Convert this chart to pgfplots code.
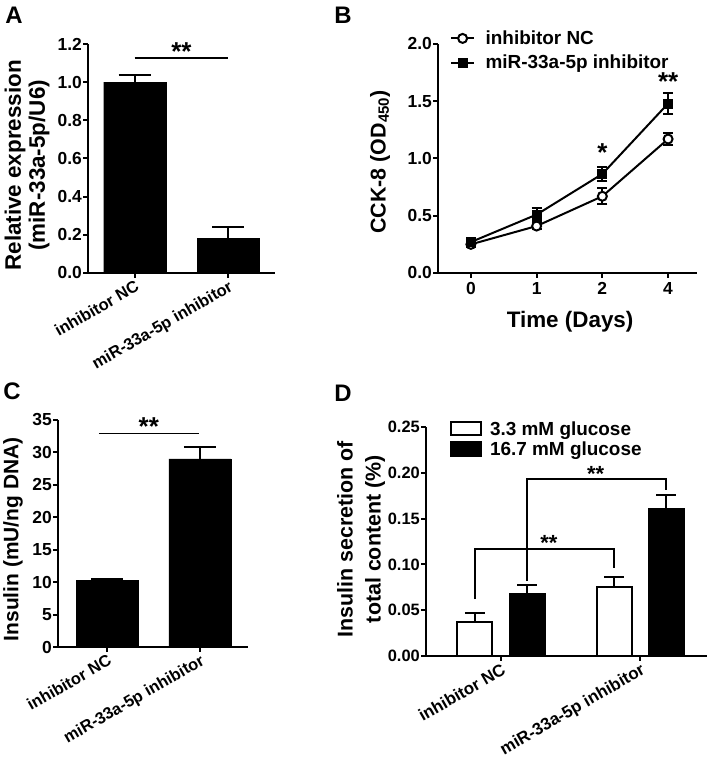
\documentclass[border=0pt]{standalone}
\usepackage{fontspec}
\setmainfont{Liberation Sans}
\usepackage{pgfplots}
\pgfplotsset{compat=1.18}
\newcommand\tickfont{\fontsize{17.5}{18}\selectfont\bfseries}
\newcommand\tickfontD{\fontsize{16.5}{17}\selectfont\bfseries}
\newcommand\xtfont{\fontsize{16.5}{17}\selectfont\bfseries}
\newcommand\xtfontD{\fontsize{17}{18}\selectfont\bfseries}
\newcommand\legfont{\fontsize{19}{20}\selectfont\bfseries}
\newcommand\starfont{\fontsize{26}{26}\selectfont\bfseries}
\newcommand\panfont{\fontsize{24}{24}\selectfont\bfseries}
\pgfplotsset{
  prism/.style={
    scale only axis,
    axis lines=left,
    axis line style={-, line width=2bp, black},
    tick align=outside,
    major tick length=5bp,
    tick style={black, line width=2bp},
    minor tick num=0,
    /pgf/number format/assume math mode=true,
    tick label style={font=\tickfont},
    yticklabel style={inner sep=1bp},
    scaled y ticks=false,
    clip=false,
  },
  catx/.style={
    xtick={0,1},
    xticklabels={inhibitor NC, miR-33a-5p inhibitor},
    xticklabel style={rotate=30, anchor=north east, font=\xtfont, inner sep=1bp},
  },
}
\begin{document}
\begin{tikzpicture}
\useasboundingbox (0bp,0bp) rectangle (709bp,758bp);
% panel letters
\node[font=\panfont] at (14bp,743bp) {A};
\node[font=\panfont] at (343bp,743bp) {B};
\node[font=\panfont] at (12bp,367bp) {C};
\node[font=\panfont] at (343bp,365bp) {D};

% ---------------- A ----------------
\begin{axis}[prism, catx,
  at={(88bp,485bp)}, anchor=south west,
  width=187bp, height=229bp,
  xmin=-0.5, xmax=1.5, ymin=0, ymax=1.2,
  ytick={0,0.2,0.4,0.6,0.8,1.0,1.2},
  yticklabel style={/pgf/number format/.cd, fixed, fixed zerofill, precision=1},
  ylabel={Relative expression\\(miR-33a-5p/U6)},
  ylabel style={align=center, font=\fontsize{22.5}{24}\selectfont\bfseries,
    at={(axis description cs:-0.326,0.47)}, anchor=center},
]
\addplot[ybar, bar width=62bp, bar shift=0bp, fill=black, draw=black,
  error bars/.cd, y dir=plus, y explicit,
  error bar style={line width=2bp, black},
  error mark options={line width=2bp, mark size=16bp, black, rotate=90}]
  coordinates {(0,1.00) +- (0,0.035) (1,0.18) +- (0,0.06)};
\addplot[sharp plot, black, line width=1.2bp, mark=none] coordinates {(0,1.127) (1,1.127)};
\node[font=\starfont, anchor=base] at (axis cs:0.5,1.115) {**};
\end{axis}

% ---------------- B ----------------
\begin{axis}[prism,
  at={(438bp,485bp)}, anchor=south west,
  width=259bp, height=229bp,
  xmin=-0.5, xmax=3.44, ymin=0, ymax=2,
  xtick={0,1,2,3}, xticklabels={0,1,2,4},
  ytick={0,0.5,1.0,1.5,2.0},
  yticklabel style={/pgf/number format/.cd, fixed, fixed zerofill, precision=1},
  xticklabel style={inner sep=4bp},
  ylabel={CCK-8 (OD\textsubscript{450})},
  ylabel style={font=\fontsize{21.5}{23}\selectfont\bfseries,
    at={(axis description cs:-0.224,0.485)}, anchor=center},
  xlabel={Time (Days)},
  xlabel style={font=\fontsize{22.5}{23}\selectfont\bfseries,
    at={(axis description cs:0.51,-0.214)}, anchor=center},
  legend style={draw=none, fill=none, font=\legfont, inner sep=0bp,
    at={(axis description cs:0.046,1.065)}, anchor=north west,
    nodes={inner sep=1.5bp}, row sep=6bp, column sep=9bp},
  legend cell align=left,
  legend image code/.code={\draw[mark repeat=2, mark phase=2, #1]
    plot coordinates {(0bp,0bp) (11.5bp,0bp) (23bp,0bp)};},
]
\addplot[black, line width=2bp, mark=*, mark size=4.5bp,
  mark options={fill=white, line width=2bp},
  error bars/.cd, y dir=both, y explicit,
  error bar style={line width=2bp, black},
  error mark options={line width=2bp, mark size=5bp, black, rotate=90}]
  coordinates {(0,0.25) +- (0,0.02) (1,0.41) +- (0,0.03) (2,0.67) +- (0,0.07) (3,1.17) +- (0,0.05)};
\addlegendentry{inhibitor NC}
\addplot[black, line width=2bp, mark=square*, mark size=4.5bp,
  mark options={fill=black, line width=1bp},
  error bars/.cd, y dir=both, y explicit,
  error bar style={line width=2bp, black},
  error mark options={line width=2bp, mark size=5bp, black, rotate=90}]
  coordinates {(0,0.27) +- (0,0.02) (1,0.51) +- (0,0.06) (2,0.865) +- (0,0.063) (3,1.48) +- (0,0.09)};
\addlegendentry{miR-33a-5p inhibitor}
\node[font=\starfont, anchor=base] at (axis cs:2,0.975) {*};
\node[font=\starfont, anchor=base] at (axis cs:3,1.59) {**};
\end{axis}

% ---------------- C ----------------
\begin{axis}[prism, catx,
  at={(58bp,111bp)}, anchor=south west,
  width=190bp, height=227bp,
  xmin=-0.53, xmax=1.52, ymin=0, ymax=35,
  ytick={0,5,10,15,20,25,30,35},
  ylabel={Insulin (mU/ng DNA)},
  ylabel style={font=\fontsize{21}{22}\selectfont\bfseries,
    at={(axis description cs:-0.237,0.474)}, anchor=center},
]
\addplot[ybar, bar width=62bp, bar shift=0bp, fill=black, draw=black,
  error bars/.cd, y dir=plus, y explicit,
  error bar style={line width=2bp, black},
  error mark options={line width=2bp, mark size=16bp, black, rotate=90}]
  coordinates {(0,10.3) +- (0,0.2) (1,29.0) +- (0,1.9)};
\addplot[sharp plot, black, line width=1.2bp, mark=none] coordinates {(-0.09,32.9) (0.99,32.9)};
\node[font=\starfont, anchor=base] at (axis cs:0.45,32.6) {**};
\end{axis}

% ---------------- D ----------------
\begin{axis}[prism, catx,
  at={(426bp,102bp)}, anchor=south west,
  width=281bp, height=229bp,
  xmin=-0.54, xmax=1.48, ymin=0, ymax=0.25,
  ytick={0,0.05,0.10,0.15,0.20,0.25},
  tick label style={font=\tickfontD},
  xticklabel style={font=\xtfontD},
  yticklabel style={/pgf/number format/.cd, fixed, fixed zerofill, precision=2},
  ylabel={Insulin secretion of\\total content (\%)},
  ylabel style={align=center, font=\fontsize{21.5}{28}\selectfont\bfseries,
    at={(axis description cs:-0.231,0.51)}, anchor=center},
  legend style={draw=none, fill=none, font=\legfont, inner sep=0bp,
    at={(axis description cs:0.085,1.03)}, anchor=north west,
    nodes={inner sep=1bp}, row sep=3bp, column sep=7bp},
  legend cell align=left,
  legend image code/.code={\draw[#1, line width=2bp] (0bp,-6.5bp) rectangle (30bp,7bp);},
]
\addplot[ybar, bar width=35bp, bar shift=0bp, fill=white, draw=black, line width=2bp,
  error bars/.cd, y dir=plus, y explicit,
  error bar style={line width=2bp, black},
  error mark options={line width=2bp, mark size=10bp, black, rotate=90}]
  coordinates {(-0.188,0.0375) +- (0,0.009) (0.812,0.0748) +- (0,0.0115)};
\addlegendentry{3.3 mM glucose}
\addplot[ybar, bar width=35bp, bar shift=0bp, fill=black, draw=black, line width=2bp,
  error bars/.cd, y dir=plus, y explicit,
  error bar style={line width=2bp, black},
  error mark options={line width=2bp, mark size=10bp, black, rotate=90}]
  coordinates {(0.188,0.068) +- (0,0.009) (1.188,0.160) +- (0,0.016)};
\addlegendentry{16.7 mM glucose}
\addplot[sharp plot, black, line width=2bp, mark=none, forget plot]
  coordinates {(-0.188,0.062) (-0.188,0.117) (0.812,0.117) (0.812,0.096)};
\addplot[sharp plot, black, line width=2bp, mark=none, forget plot]
  coordinates {(0.188,0.082) (0.188,0.193) (1.188,0.193) (1.188,0.181)};
\node[font=\fontsize{22}{22}\selectfont\bfseries, anchor=base] at (axis cs:0.344,0.115) {**};
\node[font=\fontsize{22}{22}\selectfont\bfseries, anchor=base] at (axis cs:0.68,0.191) {**};
\end{axis}
\end{tikzpicture}
\end{document}
